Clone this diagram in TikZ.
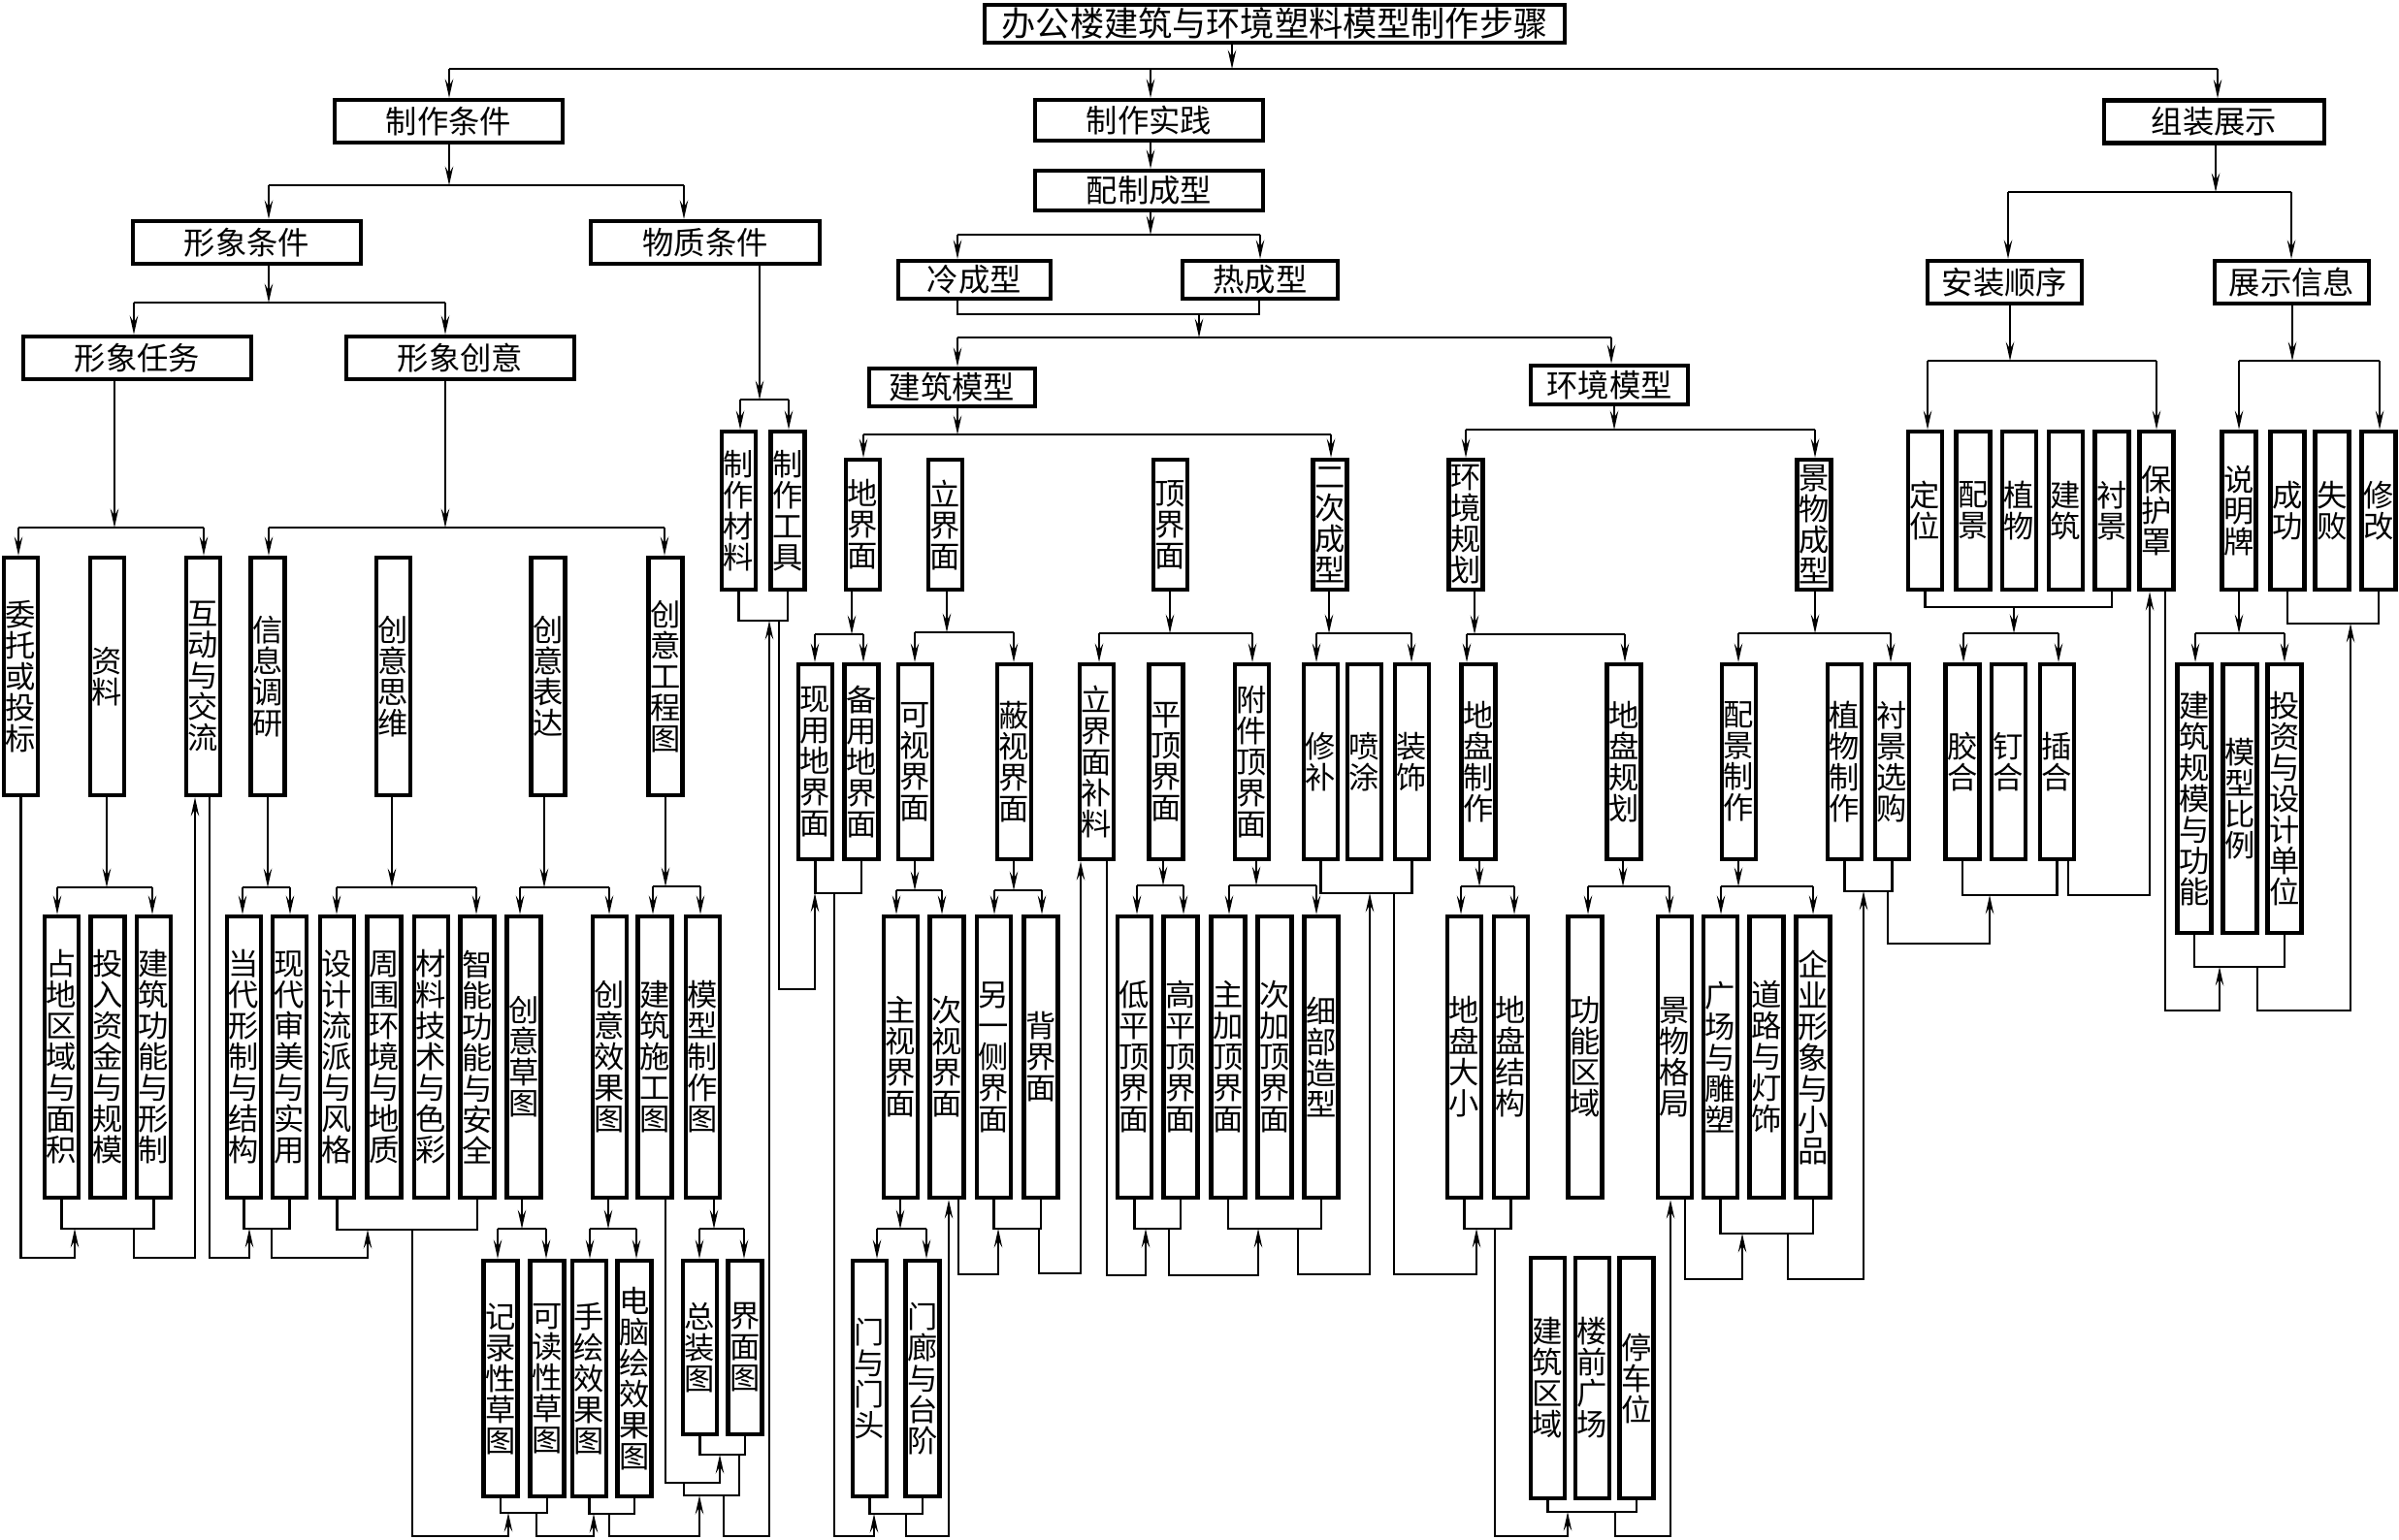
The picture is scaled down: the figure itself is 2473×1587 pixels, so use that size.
\documentclass[tikz,border=0pt]{standalone}
\usepackage{fontspec}
\newfontfamily\cjk{Noto Sans CJK SC}
\usetikzlibrary{arrows.meta}

% parent, stem x, bus y, left x, right x, left child, right child
\newcommand\treefork[7]{%
  \coordinate (#1-bus) at (#2,#3);
  \draw[arr] (#1.south -| #1-bus) -- (#1-bus);
  \draw[link] (#4,#3) -- (#5,#3);
  \draw[arr] (#4,#3) -- (#6.north -| #4,0);
  \draw[arr] (#5,#3) -- (#7.north -| #5,0);}
% left box, right box, y, out x, name
\newcommand\treejoin[5]{%
  \coordinate (#5) at (#4,#3);
  \draw[link] (#1.south) |- (#5) -| (#2.south);}
% start, start x, low y, end x, end
\newcommand\treechain[5]{%
  \draw[arr] (#1 -| #2,0) -- (#2,#3) -| (#5 -| #4,0);}

\begin{document}
\begin{tikzpicture}[x=0.01cm, y=-0.01cm,
    >={Stealth[length=5.5pt, width=2.4pt, inset=2pt]},
    link/.style={line width=0.6pt},
    arr/.style={link, ->},
    hbox/.style={draw, line width=1.2pt, inner sep=0pt, minimum height=0.44cm,
                 font=\cjk\fontsize{9.2pt}{9.4pt}\selectfont},
    vbox/.style={draw, line width=1.2pt, inner sep=0pt, align=center, minimum width=0.35cm,
                 font=\cjk\fontsize{8.9pt}{9.1pt}\selectfont},
    vT/.style={vbox, minimum height=1.63cm},
    vU/.style={vbox, minimum height=1.34cm},
    vL/.style={vbox, minimum height=2.45cm},
    vM/.style={vbox, minimum height=2.01cm},
    vR/.style={vbox, minimum height=2.77cm},
    vB/.style={vbox, minimum height=2.90cm},
    vC/.style={vbox, minimum height=2.43cm},
    vZ/.style={vbox, minimum height=1.79cm},
    vJ/.style={vbox, minimum height=2.48cm}]

    \useasboundingbox (0,0) rectangle (2473,1587);

    % Title and upper levels
    \node[hbox, minimum width=5.98cm, minimum height=0.39cm, font=\cjk\fontsize{10pt}{10.2pt}\selectfont] (nT) at (1314,24.5) {办公楼建筑与环境塑料模型制作步骤};
    \node[hbox, minimum width=2.35cm] (nA) at (462.5,125) {制作条件};
    \node[hbox, minimum width=2.35cm, minimum height=0.42cm] (nB) at (1184.5,124) {制作实践};
    \node[hbox, minimum width=2.27cm] (nC) at (2282.5,125.5) {组装展示};
    \node[hbox, minimum width=2.35cm, minimum height=0.41cm] (nB1) at (1184.5,196.5) {配制成型};
    \node[hbox, minimum width=2.35cm] (nA1) at (254.5,250) {形象条件};
    \node[hbox, minimum width=2.36cm] (nA2) at (727,250) {物质条件};
    \node[hbox, minimum width=1.57cm, minimum height=0.39cm] (nBl) at (1004.5,288.5) {冷成型};
    \node[hbox, minimum width=1.60cm, minimum height=0.39cm] (nBr) at (1299,288.5) {热成型};
    \node[hbox, minimum width=1.59cm] (nC1) at (2066.5,291) {安装顺序};
    \node[hbox, minimum width=1.59cm] (nC2) at (2362.5,291) {展示信息};
    \node[hbox, minimum width=2.35cm] (nA11) at (141.5,369) {形象任务};
    \node[hbox, minimum width=2.35cm] (nA12) at (474.5,369) {形象创意};
    \node[hbox, minimum width=1.71cm, minimum height=0.39cm] (nBj) at (981.5,399.5) {建筑模型};
    \node[hbox, minimum width=1.62cm, minimum height=0.40cm] (nBh) at (1659,397) {环境模型};

    % Row T
    \node[vT] (zzcl) at (761.5,526.5) {制\\作\\材\\料};
    \node[vT] (zzgj) at (812,526.5) {制\\作\\工\\具};
    \node[vT] (dw) at (1984.5,526.5) {定\\位};
    \node[vT] (pj) at (2034,526.5) {配\\景};
    \node[vT] (zw) at (2081.5,526.5) {植\\物};
    \node[vT] (jz) at (2129.5,526.5) {建\\筑};
    \node[vT] (cj) at (2177,526.5) {衬\\景};
    \node[vT] (bhz) at (2223,526.5) {保\\护\\罩};
    \node[vT] (smp) at (2308,526.5) {说\\明\\牌};
    \node[vT] (cgong) at (2358,526.5) {成\\功};
    \node[vT] (sb) at (2404,526.5) {失\\败};
    \node[vT] (xg) at (2452,526.5) {修\\改};

    % Row U
    \node[vU] (djm) at (889.5,541) {地\\界\\面};
    \node[vU] (ljm) at (974.5,541) {立\\界\\面};
    \node[vU] (dingjm) at (1206.5,541) {顶\\界\\面};
    \node[vU] (ecxc) at (1371,541) {二\\次\\成\\型};
    \node[vU] (hjgh) at (1511,541) {环\\境\\规\\划};
    \node[vU] (jwcx) at (1870,541) {景\\物\\成\\型};

    % Row L1
    \node[vL] (wtts) at (21.5,697.5) {委\\托\\或\\投\\标};
    \node[vL] (zl) at (110.5,697.5) {资\\料};
    \node[vL] (hdjl) at (209.5,697.5) {互\\动\\与\\交\\流};
    \node[vL] (xxdy) at (276,697.5) {信\\息\\调\\研};
    \node[vL] (cysw) at (405.5,697.5) {创\\意\\思\\维};
    \node[vL] (cybd) at (565,697.5) {创\\意\\表\\达};
    \node[vL] (cygct) at (686,697.5) {创\\意\\工\\程\\图};

    % Row M1
    \node[vM] (xydjm) at (840.5,785.5) {现\\用\\地\\界\\面};
    \node[vM] (bydjm) at (888,785.5) {备\\用\\地\\界\\面};
    \node[vM] (ksjm) at (943.5,785.5) {可\\视\\界\\面};
    \node[vM] (bsjm) at (1045.5,785.5) {蔽\\视\\界\\面};
    \node[vM] (ljmbl) at (1130.5,785.5) {立\\界\\面\\补\\料};
    \node[vM] (pdjm) at (1202,785.5) {平\\顶\\界\\面};
    \node[vM] (fjdjm) at (1290.5,785.5) {附\\件\\顶\\界\\面};
    \node[vM] (xb) at (1361.5,785.5) {修\\补};
    \node[vM] (pt) at (1406.5,785.5) {喷\\涂};
    \node[vM] (zs) at (1455.5,785.5) {装\\饰};
    \node[vM] (dpzz) at (1524,785.5) {地\\盘\\制\\作};
    \node[vM] (dpgh) at (1674,785.5) {地\\盘\\规\\划};
    \node[vM] (pjzz) at (1792.5,785.5) {配\\景\\制\\作};
    \node[vM] (zwzz) at (1901.5,785.5) {植\\物\\制\\作};
    \node[vM] (cjxg) at (1950.5,785.5) {衬\\景\\选\\购};
    \node[vM] (jh) at (2023,785.5) {胶\\合};
    \node[vM] (dh) at (2070.5,785.5) {钉\\合};
    \node[vM] (ch) at (2120.5,785.5) {插\\合};
    \node[vR] (jzgm) at (2262,823.5) {建\\筑\\规\\模\\与\\功\\能};
    \node[vR] (mxbl) at (2309,823.5) {模\\型\\比\\例};
    \node[vR] (tzsj) at (2355,823.5) {投\\资\\与\\设\\计\\单\\位};

    % Row B
    \node[vB] (zdqy) at (63.5,1090) {占\\地\\区\\域\\与\\面\\积};
    \node[vB] (trzj) at (111,1090) {投\\入\\资\\金\\与\\规\\模};
    \node[vB] (jzgn) at (158.5,1090) {建\\筑\\功\\能\\与\\形\\制};
    \node[vB] (ddxz) at (251.5,1090) {当\\代\\形\\制\\与\\结\\构};
    \node[vB] (xdsm) at (298.5,1090) {现\\代\\审\\美\\与\\实\\用};
    \node[vB] (sjlp) at (347.5,1090) {设\\计\\流\\派\\与\\风\\格};
    \node[vB] (zwhj) at (396,1090) {周\\围\\环\\境\\与\\地\\质};
    \node[vB] (clys) at (444.5,1090) {材\\料\\技\\术\\与\\色\\彩};
    \node[vB] (zngn) at (492,1090) {智\\能\\功\\能\\与\\安\\全};
    \node[vB] (cyct) at (540,1090) {创\\意\\草\\图};
    \node[vB] (cyxgt) at (628.5,1090) {创\\意\\效\\果\\图};
    \node[vB] (jzsgt) at (675,1090) {建\\筑\\施\\工\\图};
    \node[vB] (mxzzt) at (724.5,1090) {模\\型\\制\\作\\图};
    \node[vB] (zsjm) at (928.5,1090) {主\\视\\界\\面};
    \node[vB] (csjm) at (976,1090) {次\\视\\界\\面};
    \node[vB] (lycjm) at (1024.5,1090) {另\\一\\侧\\界\\面};
    \node[vB] (bjm) at (1073,1090) {背\\界\\面};
    \node[vB] (dpdjm) at (1169.5,1090) {低\\平\\顶\\界\\面};
    \node[vB] (gpdjm) at (1217,1090) {高\\平\\顶\\界\\面};
    \node[vB] (zjdjm) at (1266,1090) {主\\加\\顶\\界\\面};
    \node[vB] (cjdjm) at (1314,1090) {次\\加\\顶\\界\\面};
    \node[vB] (xbzx) at (1362,1090) {细\\部\\造\\型};
    \node[vB] (dpdx) at (1509.5,1090) {地\\盘\\大\\小};
    \node[vB] (dpjg) at (1557.5,1090) {地\\盘\\结\\构};
    \node[vB] (gnqy) at (1634,1090) {功\\能\\区\\域};
    \node[vB] (jwgj) at (1726.5,1090) {景\\物\\格\\局};
    \node[vB] (gcds) at (1773.5,1090) {广\\场\\与\\雕\\塑};
    \node[vB] (dldsh) at (1821,1090) {道\\路\\与\\灯\\饰};
    \node[vB] (qyxx) at (1869,1090) {企\\业\\形\\象\\与\\小\\品};

    % Row C
    \node[vC] (jlct) at (516,1421.5) {记\\录\\性\\草\\图};
    \node[vC] (kdct) at (564,1421.5) {可\\读\\性\\草\\图};
    \node[vC] (shxgt) at (607.5,1421.5) {手\\绘\\效\\果\\图};
    \node[vC] (dnxgt) at (654,1421.5) {电\\脑\\绘\\效\\果\\图};
    \node[vZ] (zzt) at (721.5,1389.5) {总\\装\\图};
    \node[vZ] (jmt) at (768,1389.5) {界\\面\\图};
    \node[vC] (mymt) at (896.5,1421.5) {门\\与\\门\\头};
    \node[vC] (mltj) at (951,1421.5) {门\\廊\\与\\台\\阶};
    \node[vJ] (jzqy) at (1595.5,1421) {建\\筑\\区\\域};
    \node[vJ] (lqgc) at (1641.5,1421) {楼\\前\\广\\场};
    \node[vJ] (tcw) at (1687,1421) {停\\车\\位};

    % Branches downward
    \treefork{nT}{1270}{71}{463}{2286}{nA}{nC}
    \draw[arr] (nT-bus -| 1186,0) -- (nB.north -| 1186,0);
    \draw[arr] (nB.south -| 1186,0) -- (nB1.north -| 1186,0);
    \treefork{nA}{463}{191}{277}{705}{nA1}{nA2}
    \treefork{nB1}{1186}{242}{987}{1299}{nBl}{nBr}
    \treefork{nC}{2284}{198}{2070}{2362}{nC1}{nC2}
    \coordinate (mlr) at (1236,324);
    \draw[link] (nBl.south -| 987,0) |- (mlr) -| (nBr.south -| 1298,0);
    \coordinate (bJ) at (1236,348);
    \draw[arr] (mlr) -- (bJ);
    \draw[link] (bJ -| 987,0) -- (bJ -| 1661,0);
    \draw[arr] (bJ -| 987,0) -- (nBj.north -| 987,0);
    \draw[arr] (bJ -| 1661,0) -- (nBh.north -| 1661,0);
    \treefork{nA1}{277}{312}{138}{459}{nA11}{nA12}
    \treefork{nA2}{783}{412}{763}{813}{zzcl}{zzgj}
    \treefork{nA11}{118}{544}{19}{210}{wtts}{hdjl}
    \treefork{nA12}{459}{544}{277}{685}{xxdy}{cygct}
    \treefork{nBj}{987}{448}{890}{1372}{djm}{ecxc}
    \treefork{nBh}{1664}{443}{1511}{1871}{hjgh}{jwcx}
    \treefork{nC1}{2072}{372}{1987}{2223}{dw}{bhz}
    \treefork{nC2}{2363}{372}{2308}{2453}{smp}{xg}
    \treefork{zl}{110}{915}{59}{157}{zdqy}{jzgn}
    \treefork{xxdy}{276}{915}{250}{299}{ddxz}{xdsm}
    \treefork{cysw}{404}{915}{347}{491}{sjlp}{zngn}
    \treefork{cybd}{561}{915}{536}{628}{cyct}{cyxgt}
    \treefork{cygct}{686}{914}{673}{722}{jzsgt}{mxzzt}
    \treefork{cyct}{538}{1267}{513}{563}{jlct}{kdct}
    \treefork{cyxgt}{627}{1267}{608}{656}{shxgt}{dnxgt}
    \treefork{mxzzt}{736}{1267}{721}{767}{zzt}{jmt}
    \treefork{djm}{878}{654}{840}{890}{xydjm}{bydjm}
    \treefork{ljm}{976}{652}{943}{1045}{ksjm}{bsjm}
    \treefork{dingjm}{1206}{653}{1133}{1291}{ljmbl}{fjdjm}
    \treefork{ecxc}{1370}{653}{1357}{1455}{xb}{zs}
    \treefork{hjgh}{1520}{654}{1512}{1675}{dpzz}{dpgh}
    \treefork{jwcx}{1871}{653}{1792}{1949}{pjzz}{cjxg}
    \treefork{smp}{2308}{653}{2263}{2355}{jzgm}{tzsj}
    \treefork{ksjm}{943}{918}{924}{971}{zsjm}{csjm}
    \treefork{bsjm}{1045}{918}{1025}{1074}{lycjm}{bjm}
    \treefork{pdjm}{1199}{913}{1172}{1220}{dpdjm}{gpdjm}
    \treefork{fjdjm}{1295}{913}{1267}{1357}{zjdjm}{xbzx}
    \treefork{dpzz}{1525}{914}{1506}{1561}{dpdx}{dpjg}
    \treefork{dpgh}{1673}{914}{1637}{1721}{gnqy}{jwgj}
    \treefork{pjzz}{1792}{914}{1774}{1869}{gcds}{qyxx}
    \treefork{zsjm}{928}{1267}{904}{955}{mymt}{mltj}

    % Group brackets
    \treejoin{zdqy}{jzgn}{1267}{138}{mzd}
    \treejoin{ddxz}{xdsm}{1267}{280}{mdd}
    \treejoin{sjlp}{zngn}{1268}{425}{msj}
    \treejoin{jlct}{kdct}{1560}{553}{mjl}
    \treejoin{shxgt}{dnxgt}{1561}{628}{msh}
    \treejoin{zzt}{jmt}{1500}{762}{mzz}
    \treejoin{zzcl}{zzgj}{640}{803}{mcl}
    \treejoin{xydjm}{bydjm}{921}{860}{mxy}
    \treejoin{mymt}{mltj}{1561}{934}{mmen}
    \treejoin{lycjm}{bjm}{1267}{1071}{mly}
    \treejoin{dpdjm}{gpdjm}{1267}{1205}{mdp}
    \treejoin{zjdjm}{xbzx}{1267}{1338}{mzj}
    \treejoin{xb}{zs}{921}{1437}{mxb}
    \treejoin{dpdx}{dpjg}{1267}{1541}{mdpd}
    \treejoin{jzqy}{tcw}{1559}{1665}{mjq}
    \treejoin{gcds}{qyxx}{1272}{1843}{mgc}
    \treejoin{zwzz}{cjxg}{919}{1946}{mzw}
    \treejoin{jh}{ch}{923}{2051}{mjh}
    \treejoin{dw}{cj}{626}{2076}{mdw}
    \treejoin{jzgm}{tzsj}{997}{2327}{mjg}
    \treejoin{cgong}{xg}{643}{2423}{mcg}

    % 定位 group to joining methods
    \coordinate (bdw) at (2076,653);
    \draw[arr] (mdw) -- (bdw);
    \draw[link] (bdw -| 2024,0) -- (bdw -| 2122,0);
    \draw[arr] (bdw -| 2024,0) -- (jh.north -| 2024,0);
    \draw[arr] (bdw -| 2122,0) -- (ch.north -| 2122,0);

    % Working sequence
    \treechain{wtts.south}{21.5}{1297}{77}{mzd}
    \treechain{mzd}{138}{1297}{201}{hdjl.south}
    \treechain{hdjl.south}{216}{1297}{257}{mdd}
    \treechain{mdd}{280}{1297}{379}{msj}
    \treechain{msj}{425}{1584}{524}{mjl}
    \treechain{mjl}{553}{1584}{612}{msh}
    \treechain{jzsgt.south}{686}{1529}{742}{mzz}
    \draw[link] (mzz) |- (705,1542) -- (705,1529);
    \coordinate (mj) at (746,1542);
    \treechain{msh}{628}{1584}{721}{mj}
    \treechain{mj}{746}{1584}{793}{mcl}
    \treechain{mcl}{803}{1020}{840}{mxy}
    \treechain{mxy}{860}{1584}{901}{mmen}
    \treechain{mmen}{934}{1584}{978}{csjm.south}
    \treechain{csjm.south}{988}{1314}{1029}{mly}
    \treechain{mly}{1071}{1313}{1114}{ljmbl.south}
    \treechain{ljmbl.south}{1141}{1315}{1181}{mdp}
    \treechain{mdp}{1205}{1315}{1297}{mzj}
    \treechain{mzj}{1338}{1314}{1412}{mxb}
    \treechain{mxb}{1437}{1314}{1522}{mdpd}
    \treechain{mdpd}{1541}{1584}{1616}{mjq}
    \treechain{mjq}{1665}{1584}{1722}{jwgj.south}
    \treechain{jwgj.south}{1737}{1319}{1796}{mgc}
    \treechain{mgc}{1843}{1319}{1921}{mzw}
    \treechain{mzw}{1946}{973}{2051}{mjh}
    \treechain{ch.south}{2132}{923}{2216}{bhz.south}
    \treechain{bhz.south}{2232}{1042}{2288}{mjg}
    \treechain{mjg}{2327}{1042}{2423}{mcg}
\end{tikzpicture}
\end{document}
